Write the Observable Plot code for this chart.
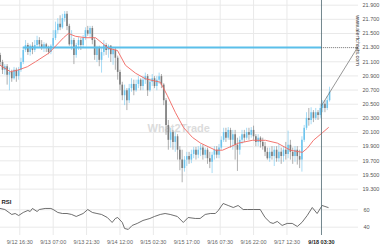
<!DOCTYPE html>
<html><head><meta charset="utf-8">
<script src="https://cdn.jsdelivr.net/npm/d3@7"></script>
<script src="https://cdn.jsdelivr.net/npm/@observablehq/plot@0.6"></script>
<style>
body{margin:0;background:#fff;font-family:"Liberation Sans",Arial,sans-serif;}
#chart{position:relative;width:380px;height:250px;overflow:hidden;}
#chart svg{display:block;overflow:visible;}
</style></head><body><div id="chart"></div>
<script>
// hourly candles starting 2020-09-12 08:00 UTC
const startTime = Date.UTC(2020, 8, 12, 8, 0);
const open = [
21.19,21.09,20.98,21.03,20.91,20.95,20.86,20.98,20.89,20.98,
21.09,21.26,21.33,21.23,21.32,21.26,21.33,21.40,21.34,21.29,
21.34,21.29,21.23,21.32,21.43,21.54,21.63,21.58,21.71,21.77,
21.60,21.34,21.40,21.19,21.33,21.40,21.33,21.43,21.54,21.49,
21.57,21.40,21.19,21.29,21.12,21.23,21.33,21.26,21.32,21.20,
21.26,21.15,20.95,20.77,20.62,20.69,20.55,20.72,20.78,20.69,
20.78,20.84,20.75,20.84,20.89,20.69,20.81,20.86,20.75,20.84,
20.89,20.77,20.55,20.20,19.99,20.10,19.96,20.04,19.85,19.71,
19.59,19.71,19.76,19.71,19.79,19.85,19.78,19.85,19.88,19.78,
19.85,19.73,19.68,19.78,19.85,19.78,19.88,19.99,20.10,20.02,
20.13,19.99,20.07,19.92,19.85,19.99,20.07,20.02,20.10,20.06,
20.13,20.04,19.96,20.02,19.96,19.90,19.82,19.73,19.82,19.76,
19.85,19.73,19.82,19.76,19.85,19.79,19.92,19.82,19.76,19.85,
19.76,19.71,19.99,20.16,20.30,20.27,20.38,20.30,20.38,20.34,
20.44,20.50,20.44,20.55];
const close = [
21.09,20.98,21.03,20.91,20.95,20.86,20.98,20.89,20.98,21.09,
21.26,21.33,21.23,21.32,21.26,21.33,21.40,21.34,21.29,21.34,
21.29,21.23,21.32,21.43,21.54,21.63,21.58,21.71,21.77,21.60,
21.34,21.40,21.19,21.33,21.40,21.33,21.43,21.54,21.49,21.57,
21.40,21.19,21.29,21.12,21.23,21.33,21.26,21.32,21.20,21.26,
21.15,20.95,20.77,20.62,20.69,20.55,20.72,20.78,20.69,20.78,
20.84,20.75,20.84,20.89,20.69,20.81,20.86,20.75,20.84,20.89,
20.77,20.55,20.20,19.99,20.10,19.96,20.04,19.85,19.71,19.59,
19.71,19.76,19.71,19.79,19.85,19.78,19.85,19.88,19.78,19.85,
19.73,19.68,19.78,19.85,19.78,19.88,19.99,20.10,20.02,20.13,
19.99,20.07,19.92,19.85,19.99,20.07,20.02,20.10,20.06,20.13,
20.04,19.96,20.02,19.96,19.90,19.82,19.73,19.82,19.76,19.85,
19.73,19.82,19.76,19.85,19.79,19.92,19.82,19.76,19.85,19.76,
19.71,19.99,20.16,20.30,20.27,20.38,20.30,20.38,20.34,20.44,
20.50,20.44,20.55,20.67];
const high = [
21.22,21.12,21.06,21.06,21.01,20.98,21.02,21.01,21.02,21.15,
21.30,21.40,21.36,21.34,21.37,21.40,21.46,21.44,21.40,21.37,
21.36,21.32,21.34,21.54,21.66,21.71,21.75,21.77,21.81,21.81,
21.63,21.54,21.43,21.36,21.44,21.43,21.47,21.58,21.60,21.60,
21.60,21.43,21.32,21.32,21.29,21.40,21.36,21.34,21.33,21.30,
21.29,21.18,20.98,20.81,20.77,20.72,20.78,20.86,20.84,20.84,
20.89,20.86,20.89,20.94,20.92,20.86,20.92,20.89,20.89,20.94,
20.92,20.79,20.58,20.27,20.16,20.13,20.10,20.07,19.90,19.85,
19.76,19.82,19.82,19.85,19.89,19.89,19.90,19.93,19.92,19.88,
19.88,19.82,19.82,19.90,19.90,19.93,20.04,20.16,20.16,20.17,
20.16,20.13,20.13,20.02,20.04,20.13,20.13,20.16,20.16,20.17,
20.19,20.07,20.07,20.04,20.02,19.96,19.88,19.88,19.90,19.90,
19.90,19.93,19.88,19.90,19.96,20.12,19.99,19.88,19.90,19.90,
19.85,20.04,20.20,20.38,20.44,20.45,20.41,20.44,20.41,20.50,
20.55,20.55,20.61,20.74];
const low = [
21.05,20.92,20.91,20.77,20.69,20.81,20.84,20.81,20.84,20.95,
21.06,21.23,21.19,21.18,21.20,21.23,21.29,21.29,21.26,21.23,
21.23,21.20,21.20,21.29,21.40,21.49,21.54,21.56,21.66,21.54,
21.32,21.26,21.06,21.15,21.26,21.26,21.29,21.40,21.46,21.44,
21.34,21.12,21.09,21.03,20.94,21.18,21.19,21.15,21.09,21.05,
20.98,20.84,20.69,20.55,20.48,20.41,20.51,20.67,20.62,20.67,
20.72,20.69,20.69,20.78,20.61,20.67,20.75,20.72,20.69,20.78,
20.72,20.48,20.06,19.85,19.88,19.85,19.82,19.71,19.56,19.39,
19.54,19.62,19.65,19.66,19.73,19.71,19.73,19.76,19.71,19.73,
19.65,19.59,19.52,19.71,19.73,19.73,19.85,19.96,19.96,19.99,
19.88,19.85,19.71,19.55,19.78,19.93,19.96,19.99,19.99,20.02,
19.99,19.90,19.90,19.88,19.85,19.76,19.71,19.68,19.71,19.62,
19.68,19.68,19.65,19.68,19.71,19.73,19.71,19.65,19.68,19.64,
19.59,19.54,19.96,20.13,20.19,20.21,20.24,20.27,20.27,20.30,
20.38,20.38,20.41,20.53];

// moving average (hours after the first candle, value)
const maHour  = [0,4.4,7.5,11.8,15.3,21,24,27.5,29.6,32.7,37,41.4,47,50.9,54.4,58.7,63,69.6,72.6,76.1,79.6,83.5,87,93.5,96.5,103.5,109.5,115.2,120.4,126,131.2,133.4,136,140,142.5];
const maValue = [21.05,20.96,20.98,21.03,21.10,21.22,21.32,21.44,21.50,21.46,21.44,21.44,21.29,21.26,21.05,20.94,20.86,20.81,20.62,20.38,20.17,20.03,19.95,19.85,19.85,19.95,19.99,19.99,19.95,19.85,19.82,19.88,19.99,20.10,20.17];

// RSI (hours after the first candle, value)
const rsiHour  = [0,2,5,6.5,8,10,12,13,14,16,17,19.5,22,23,25,27,29,31,33,36,38,40,42,44,46.5,48.6,50,51,53,54,55.6,57.3,59.5,62,65,67,69.5,71.6,73.8,76.9,79.5,81.6,84.7,86.8,89,91.2,93.4,94.7,96.8,99,101.2,103.3,105.5,107.3,109.9,112.9,115,117.2,118.5,120.3,122.4,124.6,126.8,129,131,133.3,135.5,137.6,139.8,141,142.4];
const rsiValue = [61.5,60.3,54.6,55.7,53.4,56.9,59.2,58,61.5,58,60.3,61.5,61.5,60.3,56.9,55.7,55.7,54.6,52.3,55.7,60.3,56.9,55.7,54.6,51.1,45.4,50,51.1,45.4,38.5,37.4,42,44.3,47.7,50,52.3,54.6,55.7,54.6,52.3,45.4,51.1,50,50,54.6,55.7,55.7,59.2,67.2,64.9,62.6,64.9,60.3,60.3,60.3,60.3,51.1,45.4,44.3,46.6,42,44.3,44.3,40.8,45.4,53.4,62.6,55.7,64.9,63.8,62.6];

const priceTicks = [19.3,19.5,19.7,19.9,20.1,20.3,20.5,20.7,20.9,21.1,21.3,21.5,21.7,21.9];
const rsiTicks = [40, 60];
const timeTicks = ["2020-09-12T16:30Z","2020-09-13T07:00Z","2020-09-13T21:30Z","2020-09-14T12:00Z","2020-09-15T02:30Z","2020-09-15T17:00Z","2020-09-16T07:30Z","2020-09-16T22:00Z","2020-09-17T12:30Z"];
const cursorTime = "2020-09-18T03:30Z";
const levelPrice = 21.3;
const levelStart = "2020-09-12T18:00Z";
const projectionEnd = "2020-09-18T19:06Z";
const projectionFrom = 20.48;
const watermark = "What2Trade";
const siteText = "www.alertcharts.com";

const hourDate = h => new Date(startTime + h * 3600e3);
const candles = close.map((c, i) => ({t: hourDate(i), o: open[i], h: high[i], l: low[i], c, up: c >= open[i]}));
const ups = candles.filter(d => d.up), downs = candles.filter(d => !d.up);
const ma = maHour.map((h, i) => ({t: hourDate(h), v: maValue[i]}));
const rsi = rsiHour.map((h, i) => ({t: hourDate(h), v: rsiValue[i]}));
const tickDates = timeTicks.map(d => new Date(d));
const cursor = new Date(cursorTime);
const projEnd = new Date(projectionEnd);

const W = 380, MR = 22;
const xDomain = [hourDate(0.12), hourDate(155.57)];
const fmtTime = d3.utcFormat("%-m/%-d %H:%M");
const style = {fontFamily: "'Liberation Sans', Arial, sans-serif", fontSize: "5.5px", background: "transparent", overflow: "visible"};
const upColor = "#6ec5ee", downColor = "#7b7b7b", grid = "#e9e9e9";

const pricePlot = Plot.plot({
  width: W, height: 195, marginLeft: 0, marginRight: MR, marginTop: 0, marginBottom: 0,
  style,
  x: {type: "utc", domain: xDomain, axis: null},
  y: {domain: [19.21, 21.966], axis: null},
  marks: [
    Plot.gridX(tickDates, {stroke: grid, strokeOpacity: 1}),
    Plot.gridY(priceTicks, {stroke: grid, strokeOpacity: 1}),
    Plot.axisY(priceTicks, {anchor: "right", tickSize: 0, tickPadding: 4, tickFormat: d3.format(".3f"), fill: "#555", label: null}),
    Plot.text([watermark], {x: hourDate(77.5), y: 20.16, fontSize: 11, fontWeight: "bold", fill: "#dcdcdc"}),
    Plot.ruleX(downs, {x: "t", y1: "l", y2: "h", stroke: downColor, strokeWidth: 0.6}),
    Plot.ruleX(downs, {x: "t", y1: "o", y2: "c", stroke: downColor, strokeWidth: 1.6}),
    Plot.ruleX(ups, {x: "t", y1: "l", y2: "h", stroke: upColor, strokeWidth: 0.6}),
    Plot.ruleX(ups, {x: "t", y1: "o", y2: "c", stroke: upColor, strokeWidth: 1.6}),
    Plot.ruleY([levelPrice], {x1: new Date(levelStart), x2: cursor, stroke: "#5bbfea", strokeWidth: 2}),
    Plot.ruleY([levelPrice], {x1: cursor, x2: projEnd, stroke: "#8a8a8a", strokeWidth: 1, strokeDasharray: "1,1"}),
    Plot.line(ma, {x: "t", y: "v", stroke: "#f06560", strokeWidth: 0.9}),
    Plot.ruleX([cursor], {stroke: "#4f6872", strokeWidth: 0.8}),
    Plot.arrow([{x1: cursor, y1: projectionFrom, x2: projEnd, y2: levelPrice}], {x1: "x1", y1: "y1", x2: "x2", y2: "y2", stroke: "#6a6a6a", strokeWidth: 0.7, headLength: 4}),
    Plot.text([siteText], {x: hourDate(155.4), y: 21.40, rotate: 90, fontSize: 5.5, fill: "#333"})
  ]
});

const rsiPlot = Plot.plot({
  width: W, height: 55, marginLeft: 0, marginRight: MR, marginTop: 0, marginBottom: 15,
  style,
  x: {type: "utc", domain: xDomain, axis: null},
  y: {domain: [30.42, 76.4], axis: null},
  marks: [
    Plot.gridX(tickDates, {stroke: grid, strokeOpacity: 1}),
    Plot.gridY(rsiTicks, {stroke: grid, strokeOpacity: 1}),
    Plot.axisY(rsiTicks, {anchor: "right", tickSize: 0, tickPadding: 5, fill: "#555", label: null}),
    Plot.axisX(tickDates, {anchor: "bottom", tickSize: 0, tickPadding: 5, tickFormat: fmtTime, fill: "#666", label: null}),
    Plot.axisX([cursor], {anchor: "bottom", tickSize: 0, tickPadding: 5, tickFormat: fmtTime, fill: "#222", fontWeight: "bold", label: null}),
    Plot.line(rsi, {x: "t", y: "v", stroke: "#4a4a4a", strokeWidth: 0.8}),
    Plot.ruleX([cursor], {stroke: "#4f6872", strokeWidth: 0.8}),
    Plot.text(["RSI"], {frameAnchor: "top-left", dx: 1, dy: 4, fontSize: 6, fontWeight: "bold", fill: "#222"})
  ]
});

const chart = document.getElementById("chart");
chart.append(pricePlot, rsiPlot);
</script></body></html>
